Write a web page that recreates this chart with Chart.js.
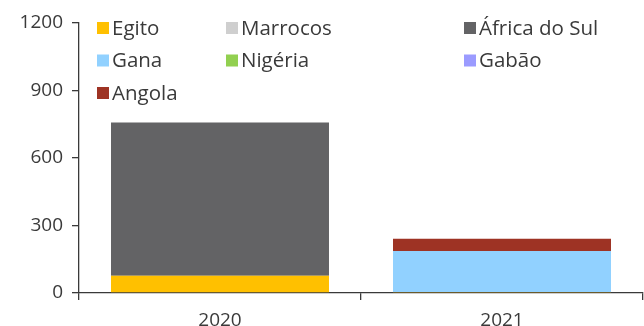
<!DOCTYPE html>
<html>
<head>
<meta charset="utf-8">
<script src="https://cdn.jsdelivr.net/npm/chart.js@4"></script>
<style>
  html, body { margin: 0; padding: 0; background: #fff; overflow: hidden; }
  #wrap { width: 644px; height: 336px; position: relative; }
</style>
</head>
<body>
<div id="wrap"><canvas id="chart"></canvas></div>
<script>
const years = ["2020", "2021"];
const countries = ["Egito", "Marrocos", "África do Sul", "Gana", "Nigéria", "Gabão", "Angola"];
const egito = [77, 4];
const marrocos = [0, 0];
const africaDoSul = [681, 0];
const gana = [0, 183];
const nigeria = [0, 0];
const gabao = [0, 0];
const angola = [0, 54];
const yTicks = [0, 300, 600, 900, 1200];

const colors = ["#FFC000", "#CFCFCF", "#636365", "#91D1FF", "#92D050", "#9B9BFF", "#9E3324"];
const series = [egito, marrocos, africaDoSul, gana, nigeria, gabao, angola];

const FONT = "'Open Sans', 'DejaVu Sans', sans-serif";
const INK = "#3a3a3a";

// legend laid out in three fixed columns inside the plot
const legendGrid = {
  id: "legendGrid",
  afterDraw(chart) {
    const { ctx, chartArea } = chart;
    const colX = [18, 147, 385];
    const rowY = [28, 60.5, 93];
    ctx.save();
    ctx.font = "20.5px " + FONT;
    ctx.textBaseline = "middle";
    chart.data.datasets.forEach((ds, i) => {
      const x = chartArea.left + colX[i % 3];
      const y = rowY[Math.floor(i / 3)];
      ctx.fillStyle = ds.backgroundColor;
      ctx.fillRect(x, y - 6, 12, 12);
      ctx.fillStyle = INK;
      ctx.fillText(ds.label, x + 15, y + 1);
    });
    ctx.restore();
  }
};

new Chart(document.getElementById("chart"), {
  type: "bar",
  data: {
    labels: years,
    datasets: countries.map((name, i) => ({
      label: name,
      data: series[i],
      backgroundColor: colors[i],
      borderWidth: 0,
      categoryPercentage: 1,
      barPercentage: 0.773
    }))
  },
  options: {
    responsive: true,
    maintainAspectRatio: false,
    animation: false,
    layout: { padding: { top: 23, right: 1, left: 0, bottom: 0 } },
    plugins: {
      legend: { display: false },
      tooltip: { enabled: false }
    },
    scales: {
      x: {
        stacked: true,
        border: { color: INK, width: 1.3 },
        grid: { drawOnChartArea: false, drawTicks: true, tickLength: 7, color: INK, lineWidth: 1.3, offset: true },
        ticks: { color: INK, font: { family: FONT, size: 19 }, padding: 9 },
        afterFit(scale) { scale.height = 43; }
      },
      y: {
        stacked: true,
        min: 0,
        max: 1200,
        afterBuildTicks(scale) { scale.ticks = yTicks.map(v => ({ value: v })); },
        border: { color: INK, width: 1.3 },
        grid: { drawOnChartArea: false, drawTicks: true, tickLength: 7, color: INK, lineWidth: 1.3 },
        ticks: { color: INK, font: { family: FONT, size: 19 }, padding: 9, callback: v => String(v) },
        afterFit(scale) { scale.width = 79; }
      }
    }
  },
  plugins: [legendGrid]
});
</script>
</body>
</html>
